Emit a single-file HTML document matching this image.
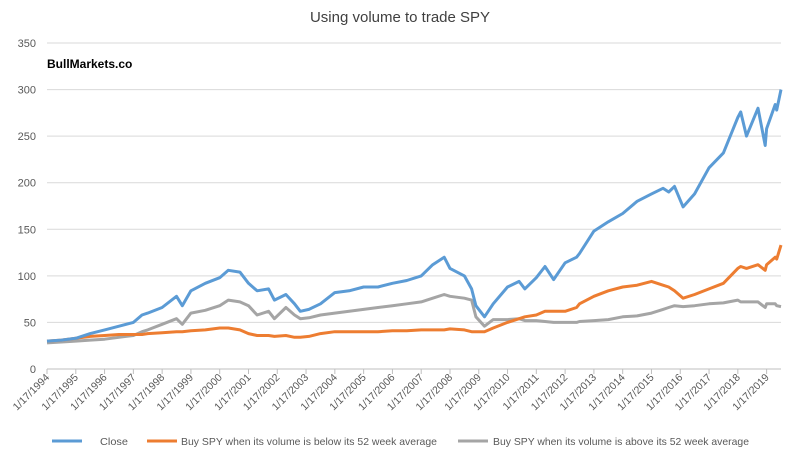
<!DOCTYPE html>
<html><head><meta charset="utf-8"><style>
body{margin:0;background:#fff;font-family:"Liberation Sans",sans-serif}
svg{display:block}
</style></head><body>
<svg id="chart" width="800" height="459">
<text x="400" y="22" text-anchor="middle" font-size="15" fill="#404040">Using volume to trade SPY</text>
<text x="47" y="68" font-size="12" font-weight="bold" fill="#000">BullMarkets.co</text>
<g id="grid"></g>
<g id="yticks"></g>
<g id="xticks"></g>
<g id="series"></g>
<g id="legend"></g>
</svg>
<script>
const yTicks=[0,50,100,150,200,250,300,350];
const xYears=[1994,1995,1996,1997,1998,1999,2000,2001,2002,2003,2004,2005,2006,2007,2008,2009,2010,2011,2012,2013,2014,2015,2016,2017,2018,2019];
const seriesNames=["Close","Buy SPY when its volume is below its 52 week average","Buy SPY when its volume is above its 52 week average"];
const seriesColors=["#5b9bd5","#ed7d31","#a5a5a5"];
const closeT=[1994,1994.5,1995,1995.5,1996,1996.5,1997,1997.3,1997.5,1998,1998.5,1998.7,1999,1999.5,2000,2000.3,2000.7,2001,2001.3,2001.7,2001.9,2002.3,2002.6,2002.8,2003.1,2003.5,2004,2004.5,2005,2005.5,2006,2006.5,2007,2007.4,2007.8,2008,2008.5,2008.75,2008.9,2009.2,2009.5,2010,2010.4,2010.6,2011,2011.3,2011.6,2012,2012.4,2012.5,2013,2013.5,2014,2014.5,2015,2015.4,2015.6,2015.8,2016.1,2016.5,2017,2017.5,2018,2018.1,2018.3,2018.7,2018.95,2019,2019.3,2019.35,2019.5];
const closeVals=[30,31,33,38,42,46,50,58,60,66,78,68,84,92,98,106,104,92,84,86,74,80,70,62,64,70,82,84,88,88,92,95,100,112,120,108,100,86,68,56,70,88,94,86,98,110,96,114,120,124,148,158,167,180,188,194,190,196,174,188,216,232,270,276,250,280,240,258,284,278,300];
const belowVals=[30,31,33,35,36,37,37,37,38,39,40,40,41,42,44,44,42,38,36,36,35,36,34,34,35,38,40,40,40,40,41,41,42,42,42,43,42,40,40,40,44,50,54,56,58,62,62,62,66,70,78,84,88,90,94,90,88,84,76,80,86,92,108,110,108,112,106,112,120,118,133];
const aboveVals=[28,29,30,31,32,34,36,40,42,48,54,48,60,63,68,74,72,68,58,62,54,66,58,54,55,58,60,62,64,66,68,70,72,76,80,78,76,74,56,46,53,53,54,52,52,51,50,50,50,51,52,53,56,57,60,64,66,68,67,68,70,71,74,72,72,72,66,70,70,68,67];
const ns="http://www.w3.org/2000/svg";
const L=47,R=781,T=43,B=369,y0=1994,y1=2019.5;
const xs=t=>L+(t-y0)/(y1-y0)*(R-L);
const ys=v=>B-v/350*(B-T);
function mk(tag,attrs,parent){const e=document.createElementNS(ns,tag);for(const k in attrs)e.setAttribute(k,attrs[k]);parent.appendChild(e);return e;}
const grid=document.getElementById('grid'),yt=document.getElementById('yticks'),xt=document.getElementById('xticks'),sg=document.getElementById('series'),lg=document.getElementById('legend');
yTicks.forEach(v=>{
  const ln=mk('line',{x1:L,x2:R,y1:ys(v),y2:ys(v),stroke:v===0?'#bfbfbf':'#d9d9d9','stroke-width':1},grid);
  
  
  const t=mk('text',{x:36,y:ys(v)+4,'text-anchor':'end','font-size':11,fill:'#595959'},yt);
  t.textContent=v;
  
  
});
xYears.forEach(y=>{
  const x=xs(y);
  const tk=mk('line',{x1:x,x2:x,y1:B,y2:B+5,stroke:'#bfbfbf'},xt);
  
  
  const t=mk('text',{x:x+3,y:B+9,'text-anchor':'end','font-size':10.5,fill:'#595959',transform:`rotate(-45 ${x+3} ${B+9})`},xt);
  t.textContent='1/17/'+y;
  
  
});
[closeVals,belowVals,aboveVals].reverse().forEach((vals,ri)=>{
  const i=2-ri;
  const pts=closeT.map((t,j)=>xs(t).toFixed(1)+','+ys(vals[j]).toFixed(1)).join(' ');
  const p=mk('polyline',{points:pts,fill:'none',stroke:seriesColors[i],'stroke-width':3,'stroke-linejoin':'round'},sg);
  
  
});
const lx=[52,147,458];
const tx=[100,181,493];
const tw=[28,256,256];
seriesNames.forEach((n,i)=>{
  const ln=mk('line',{x1:lx[i],x2:lx[i]+30,y1:441,y2:441,stroke:seriesColors[i],'stroke-width':3},lg);
  
  
  const t=mk('text',{x:tx[i],y:445,'font-size':10.5,fill:'#595959',textLength:tw[i],lengthAdjust:'spacingAndGlyphs'},lg);
  t.textContent=n;
  
  
});
</script>
</body></html>
